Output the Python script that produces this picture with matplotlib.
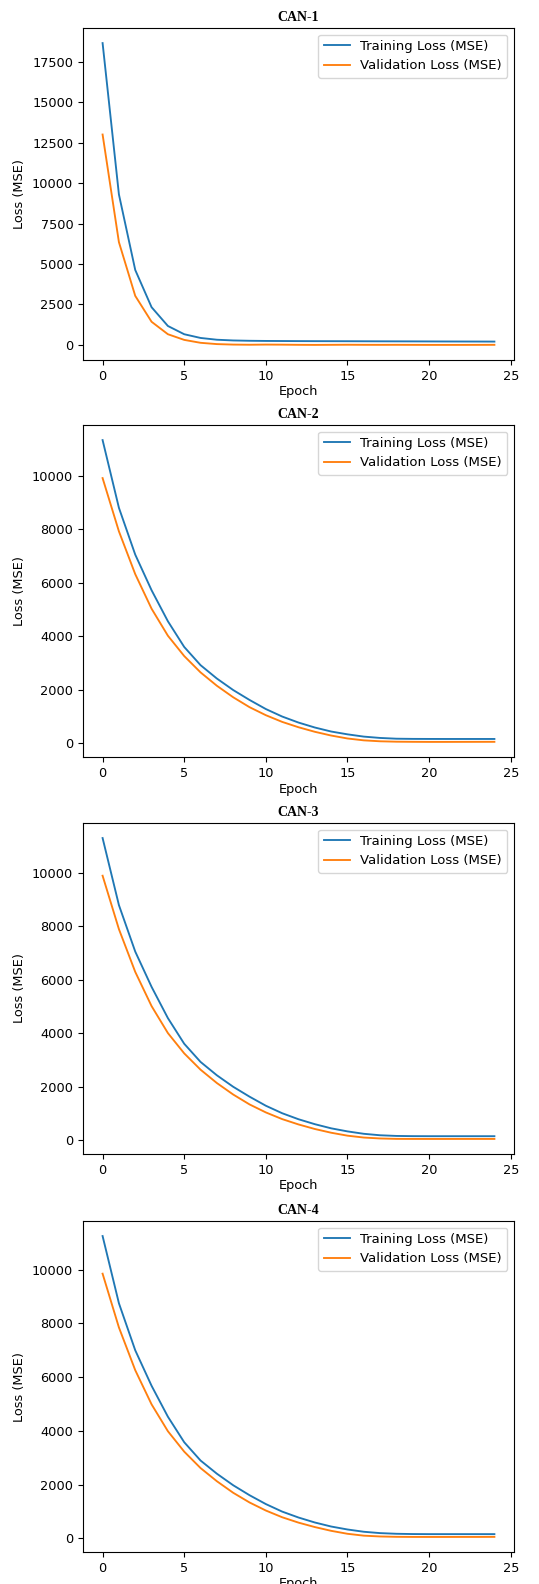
import matplotlib
matplotlib.use("Agg")
import matplotlib.pyplot as plt

epochs = list(range(25))
titles = ["CAN-1", "CAN-2", "CAN-3", "CAN-4"]

train_1 = [18650, 9300, 4630, 2330, 1170, 660, 430, 320, 275, 255, 245, 240, 235,
           232, 230, 228, 225, 222, 220, 218, 215, 212, 210, 208, 205]
val_1 = [13000, 6350, 3030, 1430, 660, 310, 130, 50, 20, 10, 20, 15, 5, 0, 5, 10,
         5, 3, 5, 2, 0, 0, 0, 2, 5]

train_2 = [11330, 8800, 7050, 5720, 4560, 3600, 2920, 2420, 1990, 1620, 1280, 1000,
           775, 590, 440, 335, 250, 200, 172, 165, 163, 162, 162, 162, 162]
val_2 = [9910, 7920, 6320, 5030, 4020, 3260, 2650, 2150, 1720, 1350, 1050, 800, 600,
         430, 290, 180, 110, 75, 60, 55, 52, 52, 53, 54, 55]

train_3 = [11310, 8800, 7060, 5740, 4570, 3610, 2930, 2430, 2000, 1630, 1290, 1010,
           785, 600, 445, 330, 240, 185, 160, 152, 150, 150, 150, 150, 150]
val_3 = [9900, 7900, 6300, 5020, 4010, 3250, 2640, 2140, 1710, 1340, 1040, 790, 590,
         420, 280, 170, 100, 65, 50, 48, 47, 47, 48, 48, 48]

train_4 = [11250, 8750, 7000, 5680, 4530, 3580, 2900, 2410, 1980, 1610, 1280, 1000,
           780, 595, 445, 335, 250, 200, 175, 165, 162, 162, 162, 162, 162]
val_4 = [9850, 7850, 6260, 4990, 3990, 3230, 2620, 2130, 1700, 1340, 1040, 790, 590,
         425, 285, 175, 105, 75, 62, 58, 57, 57, 58, 58, 60]

trains = [train_1, train_2, train_3, train_4]
vals = [val_1, val_2, val_3, val_4]

W, H = 539, 1584
fig = plt.figure(figsize=(W / 100, H / 100), dpi=100)

# axes pixel boxes (top, bottom)
boxes = [(28, 360), (425, 757), (823, 1154), (1221, 1552)]
left_px, right_px = 83, 514

for i, (top, bot) in enumerate(boxes):
    ax = fig.add_axes([left_px / W, 1 - bot / H, (right_px - left_px) / W, (bot - top) / H])
    ax.plot(epochs, trains[i], color="#1f77b4", lw=1.35, label="Training Loss (MSE)")
    ax.plot(epochs, vals[i], color="#ff7f0e", lw=1.35, label="Validation Loss (MSE)")
    ax.set_xlabel("Epoch", fontsize=9.3, labelpad=2)
    ax.set_ylabel("Loss (MSE)", fontsize=9.3)
    ax.tick_params(labelsize=9.3)
    ax.set_title(titles[i], fontsize=10, fontweight="bold",
                 family=["Liberation Serif", "DejaVu Serif"], pad=5)
    ax.legend(loc="upper right", fontsize=9.5)

fig.savefig("out.png", dpi=100)
